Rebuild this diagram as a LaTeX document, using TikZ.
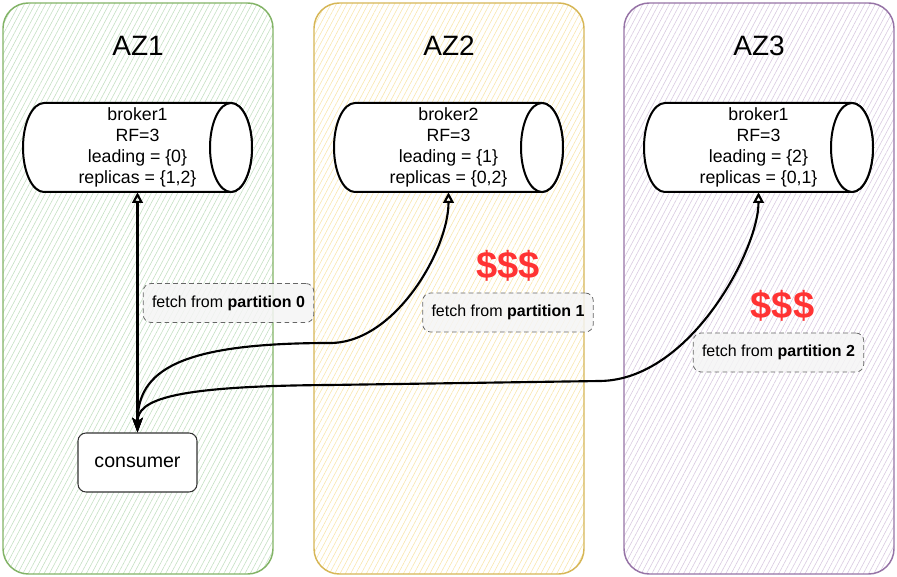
\documentclass[tikz,border=0pt]{standalone}
\usepackage{fontspec}
\setmainfont{Liberation Sans}
\usetikzlibrary{positioning}
\usetikzlibrary{calc}
\usetikzlibrary{arrows.meta, patterns.meta}

\definecolor{azgreen}{HTML}{82B366}
\definecolor{azgreenfill}{HTML}{C5E0C3}
\definecolor{azyellow}{HTML}{D6B656}
\definecolor{azyellowfill}{HTML}{F8E6AE}
\definecolor{azpurple}{HTML}{9673A6}
\definecolor{azpurplefill}{HTML}{D9CAE1}
\definecolor{labelgray}{HTML}{F5F5F5}
\definecolor{labeldash}{HTML}{666666}
\definecolor{dollarred}{HTML}{FF3333}

\begin{document}
\begin{tikzpicture}[x=0.75pt, y=-0.75pt]
    % styles for the zones, brokers and labels
    \tikzstyle{zone} = [line width=1.1pt, rounded corners=19pt]
    \tikzstyle{zonetitle} = [inner sep=0pt, font=\fontsize{21}{25}\selectfont]
    \tikzstyle{broker} = [rectangle, minimum width=171.75pt, minimum height=66.75pt, inner sep=0pt, align=center, font=\fontsize{13.3}{15.75}\selectfont]
    \tikzstyle{cyl} = [draw=black, fill=white, line width=1.5pt]
    \tikzstyle{consumerbox} = [draw=black!80, fill=white, line width=0.8pt, rounded corners=6pt, minimum width=89.25pt, minimum height=44.25pt, font=\fontsize{14.7}{17}\selectfont]
    \tikzstyle{fetchlabel} = [draw=labeldash, dashed, dash pattern=on 3.5pt off 2.5pt, line width=0.6pt, fill=labelgray, fill opacity=0.85, text opacity=1, draw opacity=1, rounded corners=6pt, minimum width=128pt, minimum height=29.25pt, font=\fontsize{12}{14}\selectfont]
    \tikzstyle{cost} = [text=dollarred, inner sep=0pt, font=\bfseries\fontsize{28.5}{32}\selectfont]
    \tikzstyle{fetchline} = [draw=black, line width=1.6pt, arrows={Stealth[length=11pt, width=8pt, inset=2.5pt]-Triangle[open, length=8pt, width=8pt]}]

    \useasboundingbox (0,0) rectangle (897,577);

    % the three availability zones side by side
    \foreach \i/\zx/\zcol/\hcol in {1/3/azgreen/azgreenfill, 2/314/azyellow/azyellowfill, 3/624/azpurple/azpurplefill} {
        \draw[zone, draw=\zcol, pattern={Lines[angle=62, distance=3.5pt, line width=0.45pt]}, pattern color=\hcol] (\zx,3) rectangle ($(\zx,3)+(270,571)$);
        \node[zonetitle] (T\i) at ($(\zx,46)+(135,0)$) {AZ\i};
    }

    % one broker cylinder in each zone
    \foreach \i/\zx/\bname/\lead/\repl in {1/3/broker1/0/{1,2}, 2/314/broker2/1/{0,2}, 3/624/broker1/2/{0,1}} {
        \coordinate (Cyl\i) at ($(\zx,147.5)+(134.5,0)$);
        \draw[cyl] ($(Cyl\i)+(-93.5,-44.5)$) arc[start angle=90, end angle=270, x radius=15.75pt, y radius=33.375pt]
            -- ($(Cyl\i)+(93.5,44.5)$) arc[start angle=270, end angle=450, x radius=15.75pt, y radius=33.375pt] -- cycle;
        \draw[cyl] ($(Cyl\i)+(93.5,0)$) ellipse[x radius=15.75pt, y radius=33.375pt];
        \node[broker] (B\i) at (Cyl\i) {\bname\\RF=3\\leading = \{\lead\}\\replicas = \{\repl\}};
    }

    % the consumer lives in AZ1
    \node[consumerbox] (C) at (137.5,462.5) {consumer};

    % fetch paths from the consumer to each leader
    \draw[fetchline] (C.north) -- (B1.south);
    \draw[fetchline] (C.north) .. controls (137.5,370) and (180,343) .. (330,343)
        .. controls (395,343) and (448.5,250) .. (B2.south);
    \draw[fetchline] (C.north) .. controls (137.5,400) and (170,386) .. (330,385) -- (600,381)
        .. controls (690,380) and (758.5,250) .. (B3.south);

    % labels on the paths
    \node[fetchlabel] (L0) at (228.5,303) {fetch from \textbf{partition 0}};
    \node[fetchlabel] (L1) at (508,312.5) {fetch from \textbf{partition 1}};
    \node[fetchlabel] (L2) at (778.5,352.5) {fetch from \textbf{partition 2}};

    % cross zone traffic costs money
    \node[cost] (D2) at (508,266) {\$\$\$};
    \node[cost] (D3) at (782.5,305.5) {\$\$\$};
\end{tikzpicture}
\end{document}
